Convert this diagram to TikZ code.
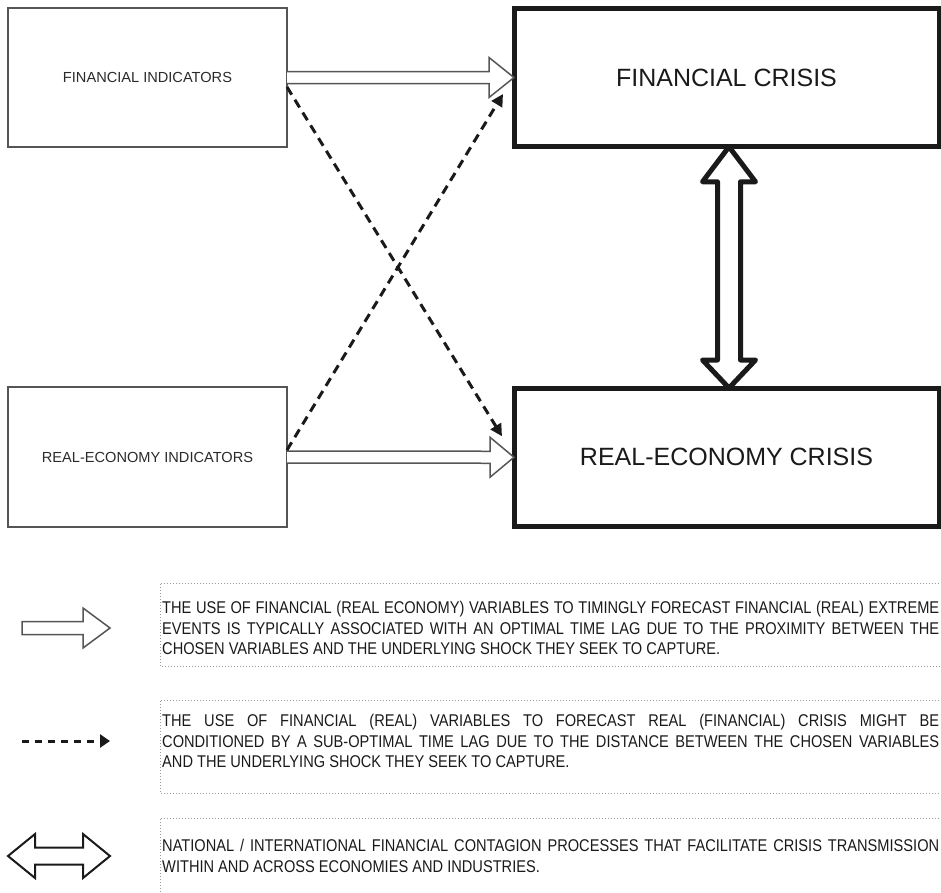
\documentclass[tikz,border=0pt]{standalone}
\usepackage{fontspec}
\setmainfont{Liberation Sans}
\newfontfamily\narrowfont[FakeStretch=0.86]{Liberation Sans}
\usetikzlibrary{calc,arrows.meta}
\definecolor{boxgray}{HTML}{555555}
\definecolor{txtgray}{HTML}{2A2A2A}
\definecolor{ink}{HTML}{1A1A1A}
\definecolor{dotgray}{HTML}{9A9A9A}
\tikzset{
  thinbox/.style={draw=boxgray, line width=1.5pt, inner sep=0pt, outer sep=0pt,
    text=txtgray, font=\fontsize{14.6}{17}\selectfont},
  thickbox/.style={draw=ink, line width=5pt, inner sep=0pt, outer sep=0pt,
    text=ink, font=\fontsize{25}{29}\selectfont},
  hollow/.style={draw=boxgray, line width=1.5pt, fill=white, line join=miter},
  bighollow/.style={draw=ink, line width=5pt, fill=white, line join=round},
  dasharrow/.style={draw=ink, line width=3pt, dash pattern=on 9pt off 6pt,
    -{Triangle[length=12pt,width=12pt]}},
  dotline/.style={draw=dotgray, line width=1pt, dash pattern=on 1pt off 2pt},
  legtext/.style={anchor=west, inner sep=0pt, align=left, text=ink,
    font=\narrowfont\fontsize{17}{20.3}\selectfont},
}
\newcommand{\fullline}[1]{\makebox[777pt][s]{#1}}
\begin{document}
\begin{tikzpicture}[x=1pt,y=-1pt]
\useasboundingbox (0,0) rectangle (941,892);
% boxes
\node[thinbox, minimum width=279pt, minimum height=139pt] (fi) at (147.5,77.5) {FINANCIAL INDICATORS};
\node[thinbox, minimum width=279pt, minimum height=140pt] (rei) at (147.5,457) {REAL-ECONOMY INDICATORS};
\node[thickbox, minimum width=425pt, minimum height=138.5pt] (fc) at (726.5,77.5) {FINANCIAL CRISIS};
\node[thickbox, minimum width=425pt, minimum height=138.5pt] (rec) at (726.5,457.25) {REAL-ECONOMY CRISIS};
% hollow horizontal arrows
\draw[hollow] ($(fi.east)+(0,-6)$) -- ($(fc.west)+(-25,-6)$) -- ($(fc.west)+(-25,-20)$)
  -- (fc.west) -- ($(fc.west)+(-25,20)$) -- ($(fc.west)+(-25,6)$) -- ($(fi.east)+(0,6)$);
\draw[hollow] ($(rei.east)+(0,-6)$) -- ($(rec.west)+(-24,-6)$) -- ($(rec.west)+(-24,-20)$)
  -- (rec.west) -- ($(rec.west)+(-24,20)$) -- ($(rec.west)+(-24,6)$) -- ($(rei.east)+(0,6)$);
% dashed cross arrows
\coordinate (d1s) at ($(fi.east)+(0,9.5)$);
\coordinate (d1e) at ($(rec.west)+(-12,-21)$);
\coordinate (d2s) at ($(rei.east)+(0,-7)$);
\coordinate (d2e) at ($(fc.west)+(-11,16.5)$);
\draw[dasharrow] (d1s) -- (d1e);
\draw[dasharrow] (d2s) -- (d2e);
% vertical double arrow
\coordinate (vt) at ($(fc.south)+(2.5,0)$);
\coordinate (vb) at ($(rec.north)+(2.5,0)$);
\draw[bighollow] (vt) -- ($(vt)+(26.5,35)$) -- ($(vt)+(11.5,35)$) -- ($(vb)+(11.5,-28)$)
  -- ($(vb)+(26.5,-28)$) -- (vb) -- ($(vb)+(-26.5,-28)$) -- ($(vb)+(-11.5,-28)$)
  -- ($(vt)+(-11.5,35)$) -- ($(vt)+(-26.5,35)$) -- cycle;
% legend 1
\draw[hollow] (22,621.5) -- (83,621.5) -- (83,608) -- (110,628) -- (83,648) -- (83,634.5) -- (22,634.5) -- cycle;
\draw[dotline] (945,583) -- (160,583) -- (160,666) -- (945,666);
\node[legtext] (l1) at (162,628) {\fullline{THE USE OF FINANCIAL (REAL ECONOMY) VARIABLES TO TIMINGLY FORECAST FINANCIAL (REAL) EXTREME}\\
\fullline{EVENTS IS TYPICALLY ASSOCIATED WITH AN OPTIMAL TIME LAG DUE TO THE PROXIMITY BETWEEN THE}\\
CHOSEN VARIABLES AND THE UNDERLYING SHOCK THEY SEEK TO CAPTURE.};
% legend 2
\coordinate (ls) at (22,741);
\coordinate (le) at (110,741);
\draw[draw=ink, line width=3pt, dash pattern=on 7pt off 6pt, -{Triangle[length=10pt,width=13pt]}] (ls) -- (le);
\draw[dotline] (945,700) -- (160,700) -- (160,793) -- (945,793);
\node[legtext] (l2) at (162,741) {\fullline{THE USE OF FINANCIAL (REAL) VARIABLES TO FORECAST REAL (FINANCIAL) CRISIS MIGHT BE}\\
\fullline{CONDITIONED BY A SUB-OPTIMAL TIME LAG DUE TO THE DISTANCE BETWEEN THE CHOSEN VARIABLES}\\
AND THE UNDERLYING SHOCK THEY SEEK TO CAPTURE.};
% legend 3
\draw[draw=ink, line width=2pt, fill=white, line join=miter] (8,856) -- (35,834) -- (35,847.5) -- (83,847.5) -- (83,834) -- (110,856)
  -- (83,878) -- (83,864.5) -- (35,864.5) -- (35,878) -- cycle;
\draw[dotline] (945,818) -- (160,818) -- (160,895);
\node[legtext] (l3) at (162,856) {\fullline{NATIONAL / INTERNATIONAL FINANCIAL CONTAGION PROCESSES THAT FACILITATE CRISIS TRANSMISSION}\\
WITHIN AND ACROSS ECONOMIES AND INDUSTRIES.};
\end{tikzpicture}
\end{document}
